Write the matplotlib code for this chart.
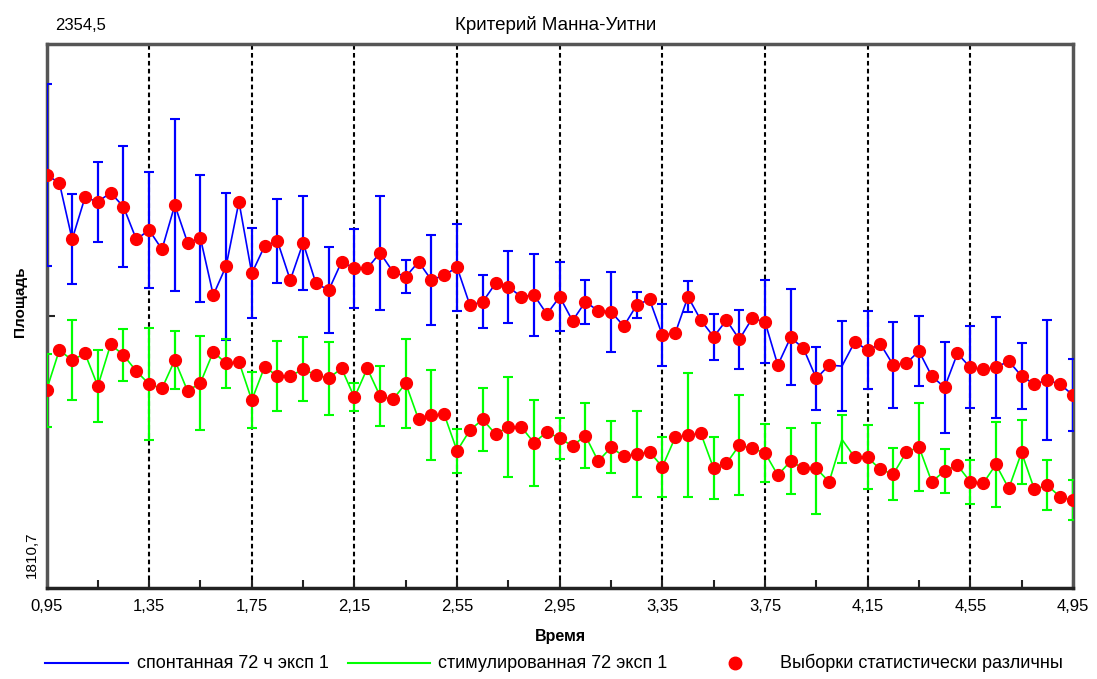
import numpy as np
import matplotlib.pyplot as plt
from matplotlib.lines import Line2D

plt.rcParams['font.family'] = ['Liberation Sans', 'DejaVu Sans']

# time points (step 0.05)
time = np.round(np.arange(0.95, 4.951, 0.05), 2)

# spontaneous 72 h, exp 1 (blue) - mean area
spont = [2223.5, 2215.8, 2159.2, 2201.2, 2196.8, 2205.8, 2191.8, 2159.2, 2168.5, 2149.2,
         2193.5, 2155.8, 2160.2, 2103.5, 2132.5, 2196.8, 2125.2, 2152.5, 2157.5, 2118.5,
         2155.8, 2115.2, 2108.5, 2136.8, 2130.2, 2130.2, 2145.8, 2126.8, 2121.8, 2136.8,
         2118.5, 2123.5, 2131.2, 2093.5, 2096.8, 2115.2, 2111.8, 2101.8, 2103.5, 2084.5,
         2101.8, 2077.8, 2096.8, 2087.8, 2086.8, 2072.5, 2093.5, 2099.2, 2063.5, 2065.2,
         2101.8, 2078.5, 2061.8, 2078.5, 2059.2, 2080.2, 2076.8, 2033.5, 2061.2, 2050.2,
         2020.2, 2033.5, 2032.5, 2056.8, 2048.5, 2054.5, 2033.5, 2035.2, 2047.5, 2022.5,
         2011.2, 2045.2, 2031.2, 2029.2, 2031.2, 2037.5, 2022.5, 2014.5, 2018.5, 2014.5,
         2003.5]
# error half-widths, every second time point
spont_err = [91, 45, 40, 60.5, 58, 86, 63.7, 73.5, 45, 42, 47, 43, 39.7, 57, 16.3, 44.7,
             43.5, 26.5, 36, 41.3, 34.5, 22, 40, 12.8, 31, 15.5, 22.8, 29.5, 41.3, 48, 31.7,
             45, 38.7, 42.8, 35, 45.5, 41, 50.8, 33.3, 60, 36]

# stimulated 72 h, exp 1 (green)
stim = [2008.5, 2048.5, 2038.5, 2045.2, 2012.5, 2054.2, 2043.5, 2027.5, 2014.5, 2010.2,
        2038.5, 2007.5, 2015.8, 2046.8, 2035.2, 2036.8, 1998.5, 2031.8, 2022.5, 2022.5,
        2029.5, 2023.5, 2020.5, 2030.2, 2001.2, 2030.2, 2002.5, 1999.2, 2015.2, 1979.2,
        1983.5, 1984.2, 1947.8, 1968.5, 1979.2, 1964.5, 1971.8, 1971.8, 1955.8, 1966.8,
        1960.2, 1952.8, 1963.0, 1937.5, 1951.2, 1942.5, 1944.5, 1946.8, 1931.8, 1961.2,
        1963.5, 1965.2, 1930.2, 1935.2, 1953.5, 1950.2, 1945.8, 1923.5, 1937.5, 1930.2,
        1930.2, 1916.8, 1959.2, 1941.2, 1941.2, 1929.2, 1924.5, 1946.2, 1951.8, 1916.8,
        1927.8, 1933.5, 1916.8, 1915.2, 1934.2, 1910.2, 1946.2, 1909.2, 1913.5, 1901.8,
        1898.5]
stim_err = [36.5, 39.7, 36.3, 26, 55.8, 28.8, 47, 24.5, 28.3, 35, 31.7, 36.5, 14, 30.3,
            44.7, 44.7, 22.2, 31.8, 50, 43.3, 20.5, 32.2, 26, 43.3, 30.3, 62.3, 31, 50.3,
            29, 33.3, 45.8, 24, 32, 25.7, 43.7, 22, 21.7, 42.5, 32, 25.3, 20]

# time indices where samples are NOT statistically different
not_sig = [62]

major = [0.95, 1.35, 1.75, 2.15, 2.55, 2.95, 3.35, 3.75, 4.15, 4.55, 4.95]
major_labels = ['0,95', '1,35', '1,75', '2,15', '2,55', '2,95', '3,35', '3,75', '4,15', '4,55', '4,95']
ymin, ymax = 1810.7, 2354.5

spont = np.array(spont)
stim = np.array(stim)
sig = np.ones(len(time), dtype=bool)
sig[not_sig] = False

W, H = 1097, 679
fig = plt.figure(figsize=(W / 100, H / 100), dpi=100)
ax = fig.add_axes([46.5 / W, 1 - 588 / H, (1072.9 - 46.5) / W, (588 - 44) / H])

blue, green, red = '#0000ff', '#00ff00', '#ff0000'

for v in major[1:-1]:
    ax.axvline(v, color='black', ls=(0, (2.2, 1.6)), lw=1.5, zorder=1)

ax.plot(time, spont, color=blue, lw=1.2, zorder=3)
ax.errorbar(time[::2], spont[::2], yerr=spont_err, fmt='none', ecolor=blue,
            elinewidth=1.6, capsize=3.5, capthick=1.5, zorder=3)
ax.plot(time, stim, color=green, lw=1.2, zorder=3)
ax.errorbar(time[::2], stim[::2], yerr=stim_err, fmt='none', ecolor=green,
            elinewidth=1.6, capsize=3.5, capthick=1.5, zorder=3)

ax.plot(time[sig], spont[sig], 'o', color=red, ms=8.5, zorder=4)
ax.plot(time[sig], stim[sig], 'o', color=red, ms=8.5, zorder=4)

ax.set_xlim(0.95, 4.95)
ax.set_ylim(ymin, ymax)
ax.set_xticks(major)
ax.set_xticklabels(major_labels, fontsize=12)
ax.set_xticks([1.15, 1.55, 1.95, 2.35, 2.75, 3.15, 3.55, 3.95, 4.35, 4.75], minor=True)
ax.set_yticks([2082.5])
ax.set_yticklabels([])
ax.tick_params(axis='both', which='both', direction='in', length=6, width=1.5, color='#222222')
ax.tick_params(axis='x', pad=8)
for s in ax.spines.values():
    s.set_linewidth(2.5)
    s.set_color('#555555')
ax.spines['bottom'].set_color('#222222')

fig.text(55 / W, 1 - 25 / H, '2354,5', fontsize=12, ha='left', va='center')
fig.text(32 / W, 1 - 555 / H, '1810,7', fontsize=11, rotation=90, ha='center', va='center')
fig.text(556 / W, 1 - 25 / H, 'Критерий Манна-Уитни', fontsize=13.5, ha='center', va='center')
fig.text(20 / W, 1 - 302 / H, 'Площадь', fontsize=11, fontweight='bold', rotation=90,
         ha='center', va='center')
fig.text(560 / W, 1 - 636 / H, 'Время', fontsize=11.5, fontweight='bold', ha='center', va='center')

# legend
ly = 1 - 663 / H
fig.add_artist(Line2D([45 / W, 128 / W], [ly, ly], color=blue, lw=1.5))
fig.text(137 / W, ly, 'спонтанная 72 ч эксп 1', fontsize=13, ha='left', va='center')
fig.add_artist(Line2D([348 / W, 430 / W], [ly, ly], color=green, lw=1.5))
fig.text(438 / W, ly, 'стимулированная 72 эксп 1', fontsize=13, ha='left', va='center')
fig.add_artist(Line2D([735 / W], [ly], marker='o', color=red, ms=9))
fig.text(780 / W, ly, 'Выборки статистически различны', fontsize=13, ha='left', va='center')

fig.savefig('out.png', dpi=100)
